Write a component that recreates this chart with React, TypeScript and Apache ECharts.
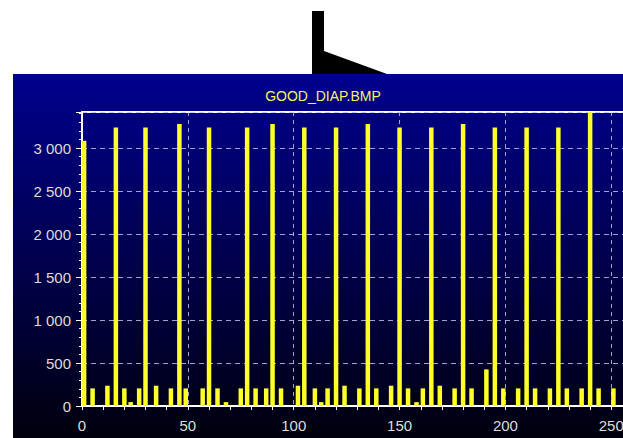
import React, { useEffect, useRef } from "react";
import * as echarts from "echarts";

const peakPositions = [1, 16, 30, 46, 60, 78, 90, 105, 120, 135, 150, 165, 180, 195, 210, 225, 240];
const peakCounts = [3085, 3240, 3240, 3280, 3240, 3240, 3280, 3240, 3240, 3280, 3240, 3240, 3280, 3240, 3240, 3240, 3420];
const minorPositions = [5, 12, 20, 23, 27, 35, 42, 49, 57, 64, 68, 75, 82, 87, 94, 102, 110, 113, 116, 124, 131, 139, 146, 154, 158, 161, 169, 176, 184, 191, 199, 206, 214, 221, 229, 236, 244, 251];
const minorCounts = [205, 236, 205, 45, 205, 236, 205, 205, 205, 205, 45, 205, 205, 205, 205, 236, 205, 45, 205, 236, 205, 205, 236, 205, 45, 205, 236, 205, 205, 426, 205, 205, 205, 205, 205, 205, 205, 205];
const chartTitle = "GOOD_DIAP.BMP";
const xTickLabels = [0, 50, 100, 150, 200, 250];
const yTickLabels = [0, 500, 1000, 1500, 2000, 2500, 3000];

function fmtY(v: number): string {
  if (v >= 1000) {
    const th = Math.floor(v / 1000);
    const rest = String(v % 1000).padStart(3, "0");
    return th + " " + rest;
  }
  return String(v);
}

export default function App() {
  const ref = useRef<HTMLDivElement>(null);
  useEffect(() => {
    if (!ref.current) return;
    const chart = echarts.init(ref.current, null, { renderer: "svg" });
    const data: [number, number][] = [];
    peakPositions.forEach((p, i) => data.push([p, peakCounts[i]]));
    minorPositions.forEach((p, i) => data.push([p, minorCounts[i]]));
    data.sort((a, b) => a[0] - b[0]);
    const font = "'Liberation Sans', Arial, sans-serif";
    const splitColor = "rgba(190,190,235,0.85)";
    chart.setOption({
      animation: false,
      backgroundColor: "#ffffff",
      graphic: [
        {
          type: "rect",
          z: -100,
          shape: { x: 13, y: 74, width: 700, height: 400 },
          style: {
            fill: {
              type: "linear",
              x: 0,
              y: 0,
              x2: 0,
              y2: 1,
              colorStops: [
                { offset: 0, color: "#00008e" },
                { offset: 0.5, color: "#000048" },
                { offset: 1, color: "#000002" },
              ],
            },
          },
        },
        {
          type: "polygon",
          z: 100,
          shape: {
            points: [
              [312, 11],
              [324, 11],
              [324, 51],
              [387, 74],
              [312, 74],
            ],
          },
          style: { fill: "#000000" },
        },
        {
          type: "text",
          z: 100,
          x: 323,
          y: 96,
          style: {
            text: chartTitle,
            fill: "#f4f464",
            font: "14px " + font,
            textAlign: "center",
            textVerticalAlign: "middle",
          },
        },
      ],
      grid: {
        left: 82,
        right: 16,
        top: 112,
        bottom: 32,
        show: true,
        borderColor: "#ffffff",
        borderWidth: 2,
        backgroundColor: "transparent",
      },
      xAxis: {
        type: "value",
        min: 0,
        max: 256,
        interval: 50,
        axisLine: { show: true, lineStyle: { color: "#ffffff", width: 2 } },
        axisTick: { show: true, length: 4, lineStyle: { color: "#ffffff", width: 1 } },
        minorTick: { show: true, splitNumber: 5, length: 4, lineStyle: { color: "#ffffff", width: 1 } },
        axisLabel: {
          color: "#dcdcdc",
          fontSize: 15,
          fontFamily: font,
          margin: 12,
          showMaxLabel: false,
          formatter: (v: number) => (xTickLabels.includes(v) ? String(v) : ""),
        },
        splitLine: { show: true, lineStyle: { color: splitColor, type: [4, 4], width: 1 } },
      },
      yAxis: {
        type: "value",
        min: 0,
        max: 3420,
        interval: 500,
        axisLine: { show: true, lineStyle: { color: "#ffffff", width: 2 } },
        axisTick: { show: true, length: 6, lineStyle: { color: "#ffffff", width: 1 } },
        minorTick: { show: true, splitNumber: 5, length: 3, lineStyle: { color: "#ffffff", width: 1 } },
        axisLabel: {
          color: "#dcdcdc",
          fontSize: 15,
          fontFamily: font,
          margin: 11,
          showMaxLabel: false,
          formatter: (v: number) => (yTickLabels.includes(v) ? fmtY(v) : ""),
        },
        splitLine: { show: true, lineStyle: { color: splitColor, type: [5, 4], width: 1 } },
      },
      series: [
        {
          type: "bar",
          data: data,
          barWidth: 4.5,
          itemStyle: { color: "#ffff2a" },
          clip: true,
        },
      ],
    });
    return () => chart.dispose();
  }, []);
  return (
    <div
      style={{
        position: "fixed",
        left: 0,
        top: 0,
        width: 623,
        height: 438,
        overflow: "hidden",
        background: "#ffffff",
      }}
    >
      <div ref={ref} style={{ width: 640, height: 438 }} />
    </div>
  );
}
